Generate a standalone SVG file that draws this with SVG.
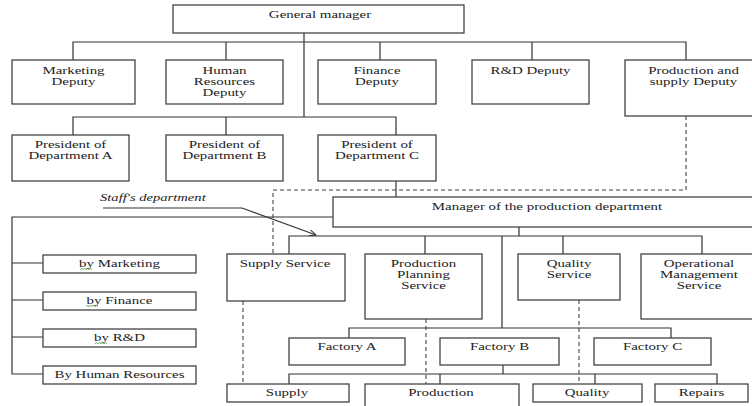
<svg xmlns="http://www.w3.org/2000/svg" width="752" height="406" viewBox="0 0 752 406">
<defs>
<style>
.b{fill:#fff;stroke:#444;stroke-width:1.3}
.c{fill:none;stroke:#333;stroke-width:1.2}
.d{fill:none;stroke:#444;stroke-width:1.1;stroke-dasharray:4 3}
.t{font-family:"Liberation Serif","Times New Roman",serif;font-size:10.3px;fill:#222;text-anchor:middle}
.i{font-style:italic;text-anchor:start}
.w{fill:none;stroke:#3a9a3a;stroke-width:0.8}
</style>
<marker id="ah" markerWidth="8" markerHeight="6" refX="7" refY="3" orient="auto" markerUnits="userSpaceOnUse">
<path d="M0,0 L7,3 L0,6" fill="none" stroke="#333" stroke-width="1"/>
</marker>
</defs>
<rect width="752" height="406" fill="#fff"/>

<g id="connectors">
<path class="c" d="M73,60V42H686V60M226,42V60M380,42V60M532,42V60M304,33V117M73,135V117H396V135M226,117V135"/>
<path class="c" d="M396,181V197"/>
<path class="c" d="M333,217H12V374H43M12,263H43M12,300H43M12,337H43"/>
<path class="c" d="M519,227V236M289,254V236H702V254M425,236V254M563,236V254M502,236V328"/>
<path class="c" d="M349,338V328H671V338"/>
<path class="c" d="M503,365V374M289,384V374H717V384M440,374V384M595,374V384"/>
<path class="d" d="M686,116V190H273V254"/>
<path class="d" d="M243,301V384M426,319V384M579,300V384"/>
<path class="c" d="M103,208H242L316,235" marker-end="url(#ah)"/>
<text class="t i" transform="translate(100,201) scale(1.42,1)">Staff's department</text>
</g>

<g id="general-manager"><rect class="b" x="173" y="5" width="291" height="28"/><text class="t" transform="translate(320,18) scale(1.45,1)">General manager</text></g>

<g id="marketing-deputy"><rect class="b" x="12" y="60" width="123" height="44"/><text class="t" transform="translate(73.5,74) scale(1.45,1)"><tspan x="0">Marketing</tspan><tspan x="0" dy="11.2">Deputy</tspan></text></g>
<g id="hr-deputy"><rect class="b" x="166" y="60" width="117" height="44"/><text class="t" transform="translate(224.5,73.6) scale(1.45,1)"><tspan x="0">Human</tspan><tspan x="0" dy="11.2">Resources</tspan><tspan x="0" dy="11.2">Deputy</tspan></text></g>
<g id="finance-deputy"><rect class="b" x="318" y="60" width="118" height="44"/><text class="t" transform="translate(377,74) scale(1.45,1)"><tspan x="0">Finance</tspan><tspan x="0" dy="11.2">Deputy</tspan></text></g>
<g id="rd-deputy"><rect class="b" x="472" y="60" width="117" height="44"/><text class="t" transform="translate(530.5,74) scale(1.45,1)">R&amp;D Deputy</text></g>
<g id="production-supply-deputy"><rect class="b" x="625" y="60" width="140" height="56"/><text class="t" transform="translate(693.5,74) scale(1.45,1)"><tspan x="0">Production and</tspan><tspan x="0" dy="11.2">supply Deputy</tspan></text></g>

<g id="president-a"><rect class="b" x="12" y="135" width="117" height="46"/><text class="t" transform="translate(70.5,147.5) scale(1.45,1)"><tspan x="0">President of</tspan><tspan x="0" dy="11.2">Department A</tspan></text></g>
<g id="president-b"><rect class="b" x="166" y="135" width="117" height="46"/><text class="t" transform="translate(224.5,147.5) scale(1.45,1)"><tspan x="0">President of</tspan><tspan x="0" dy="11.2">Department B</tspan></text></g>
<g id="president-c"><rect class="b" x="318" y="135" width="118" height="46"/><text class="t" transform="translate(377,147.5) scale(1.45,1)"><tspan x="0">President of</tspan><tspan x="0" dy="11.2">Department C</tspan></text></g>

<g id="production-manager"><rect class="b" x="333" y="197" width="430" height="30"/><text class="t" transform="translate(547,209.5) scale(1.45,1)">Manager of the production department</text></g>

<g id="staff-marketing"><rect class="b" x="43" y="255" width="153" height="18"/><text class="t" transform="translate(119.5,266.5) scale(1.45,1)">by Marketing</text><path class="w" d="M80,269.5l1.5,-1l1.5,1l1.5,-1l1.5,1l1.5,-1l1.5,1l1.5,-1l1.5,1"/></g>
<g id="staff-finance"><rect class="b" x="43" y="292" width="153" height="18"/><text class="t" transform="translate(119.5,303.5) scale(1.45,1)">by Finance</text><path class="w" d="M86,306.5l1.5,-1l1.5,1l1.5,-1l1.5,1l1.5,-1l1.5,1l1.5,-1l1.5,1"/></g>
<g id="staff-rd"><rect class="b" x="43" y="329" width="153" height="18"/><text class="t" transform="translate(119.5,340.7) scale(1.45,1)">by R&amp;D</text><path class="w" d="M95,343.7l1.5,-1l1.5,1l1.5,-1l1.5,1l1.5,-1l1.5,1l1.5,-1l1.5,1"/></g>
<g id="staff-hr"><rect class="b" x="43" y="366" width="153" height="18"/><text class="t" transform="translate(119.5,377.5) scale(1.45,1)">By Human Resources</text></g>

<g id="supply-service"><rect class="b" x="227" y="254" width="118" height="47"/><text class="t" transform="translate(285,266.7) scale(1.45,1)">Supply Service</text></g>
<g id="production-planning"><rect class="b" x="365" y="254" width="117" height="65"/><text class="t" transform="translate(423.5,266.5) scale(1.45,1)"><tspan x="0">Production</tspan><tspan x="0" dy="11.3">Planning</tspan><tspan x="0" dy="11.3">Service</tspan></text></g>
<g id="quality-service"><rect class="b" x="518" y="254" width="102" height="46"/><text class="t" transform="translate(569,266.5) scale(1.45,1)"><tspan x="0">Quality</tspan><tspan x="0" dy="11.3">Service</tspan></text></g>
<g id="operational-management"><rect class="b" x="641" y="254" width="120" height="65"/><text class="t" transform="translate(699,266.5) scale(1.45,1)"><tspan x="0">Operational</tspan><tspan x="0" dy="11.3">Management</tspan><tspan x="0" dy="11.3">Service</tspan></text></g>

<g id="factory-a"><rect class="b" x="289" y="338" width="116" height="27"/><text class="t" transform="translate(347,349.5) scale(1.45,1)">Factory A</text></g>
<g id="factory-b"><rect class="b" x="440" y="338" width="119" height="27"/><text class="t" transform="translate(499.5,349.5) scale(1.45,1)">Factory B</text></g>
<g id="factory-c"><rect class="b" x="594" y="338" width="117" height="27"/><text class="t" transform="translate(652.5,349.5) scale(1.45,1)">Factory C</text></g>

<g id="supply"><rect class="b" x="227" y="384" width="122" height="18"/><text class="t" transform="translate(287,395.7) scale(1.45,1)">Supply</text></g>
<g id="production"><rect class="b" x="365" y="384" width="154" height="30"/><text class="t" transform="translate(441,395.7) scale(1.45,1)">Production</text></g>
<g id="quality"><rect class="b" x="533" y="384" width="109" height="18"/><text class="t" transform="translate(587,395.7) scale(1.45,1)">Quality</text></g>
<g id="repairs"><rect class="b" x="655" y="384" width="93" height="18"/><text class="t" transform="translate(701.5,395.7) scale(1.45,1)">Repairs</text></g>
</svg>
